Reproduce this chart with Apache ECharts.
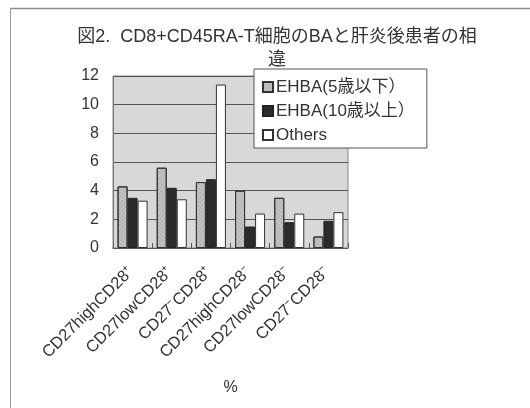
<!DOCTYPE html>
<html>
<head>
<meta charset="utf-8">
<script src="https://cdn.jsdelivr.net/npm/echarts@6/dist/echarts.min.js"></script>
<style>
  html, body { margin: 0; padding: 0; background: #ffffff; }
  #chart { width: 530px; height: 408px; }
</style>
</head>
<body>
<div id="chart"></div>
<script>
// Subset percentages of CD8+CD45RA- T cells by patient group
const categories = [
  'CD27highCD28\u207A',
  'CD27lowCD28\u207A',
  'CD27\u207BCD28\u207A',
  'CD27highCD28\u207B',
  'CD27lowCD28\u207B',
  'CD27\u207BCD28\u207B'
];
const seriesNames = ['EHBA(5歳以下）', 'EHBA(10歳以上）', 'Others'];
const ehbaYoung = [4.3, 5.6, 4.6, 4.0, 3.5, 0.8];
const ehbaOld = [3.5, 4.2, 4.8, 1.5, 1.8, 1.9];
const others = [3.3, 3.4, 11.4, 2.4, 2.4, 2.5];
const yTicks = { min: 0, max: 12, interval: 2 };

const FONT = "'Liberation Sans', 'Noto Sans CJK JP', sans-serif";
const chart = echarts.init(document.getElementById('chart'), null, { renderer: 'canvas' });

// fine dot texture for the light-grey bars
const stipple = {
  symbol: 'circle',
  symbolSize: 0.7,
  color: 'rgba(80,80,80,0.6)',
  dashArrayX: [2, 1],
  dashArrayY: [2, 1],
  rotation: 0.6
};

chart.setOption({
  backgroundColor: '#ffffff',
  animation: false,
  title: {
    text: '図2.  CD8+CD45RA-T細胞のBAと肝炎後患者の相\n違',
    left: 272,
    top: 21,
    textAlign: 'center',
    textStyle: { fontFamily: FONT, fontSize: 18, fontWeight: 'normal', color: '#333', lineHeight: 23 }
  },
  legend: {
    orient: 'vertical',
    left: 254,
    top: 69,
    padding: [9, 12, 4, 8],
    itemGap: 6,
    itemWidth: 10,
    itemHeight: 10,
    backgroundColor: '#ffffff',
    borderColor: '#555',
    borderWidth: 1,
    borderRadius: 0,
    textStyle: { fontFamily: FONT, fontSize: 17, color: '#333', lineHeight: 18, padding: [0, 0, 0, -2] },
    data: seriesNames.map(n => ({ name: n, icon: 'rect' }))
  },
  grid: {
    left: 113,
    right: 182,
    top: 76,
    bottom: 160,
    show: true,
    backgroundColor: '#d9d7d7',
    borderColor: '#8a8a8a',
    borderWidth: 1
  },
  xAxis: {
    type: 'category',
    data: categories,
    name: '%',
    nameLocation: 'middle',
    nameGap: 132,
    nameTextStyle: { fontFamily: FONT, fontSize: 16, color: '#333' },
    axisLine: { lineStyle: { color: '#555', width: 1 } },
    axisTick: { show: true, inside: true, length: 5, lineStyle: { color: '#555' } },
    axisLabel: {
      rotate: 45,
      interval: 0,
      margin: 20,
      padding: [0, 2, 0, 0],
      fontFamily: FONT,
      fontSize: 16.5,
      color: '#333'
    }
  },
  yAxis: {
    type: 'value',
    min: yTicks.min,
    max: yTicks.max,
    interval: yTicks.interval,
    axisLine: { show: true, lineStyle: { color: '#777' } },
    axisTick: { show: false },
    axisLabel: { margin: 14, fontFamily: FONT, fontSize: 16, color: '#333' },
    splitLine: { show: true, lineStyle: { color: '#555', width: 1 } }
  },
  series: [
    {
      name: seriesNames[0],
      type: 'bar',
      data: ehbaYoung,
      barWidth: 10,
      barGap: '0%',
      itemStyle: { color: '#c9c7c7', borderColor: '#333', borderWidth: 1, decal: stipple }
    },
    {
      name: seriesNames[1],
      type: 'bar',
      data: ehbaOld,
      barWidth: 10,
      barGap: '0%',
      itemStyle: { color: '#2b2b2b', borderColor: '#222', borderWidth: 1 }
    },
    {
      name: seriesNames[2],
      type: 'bar',
      data: others,
      barWidth: 10,
      barGap: '0%',
      itemStyle: { color: '#ffffff', borderColor: '#333', borderWidth: 1 }
    }
  ],
  graphic: [
    { type: 'line', shape: { x1: 10, y1: 8.5, x2: 530, y2: 8.5 }, style: { stroke: '#8c8c8c', lineWidth: 1.5 } },
    { type: 'line', shape: { x1: 10.5, y1: 8, x2: 10.5, y2: 408 }, style: { stroke: '#9a9a9a', lineWidth: 1 } }
  ]
});
</script>
</body>
</html>
